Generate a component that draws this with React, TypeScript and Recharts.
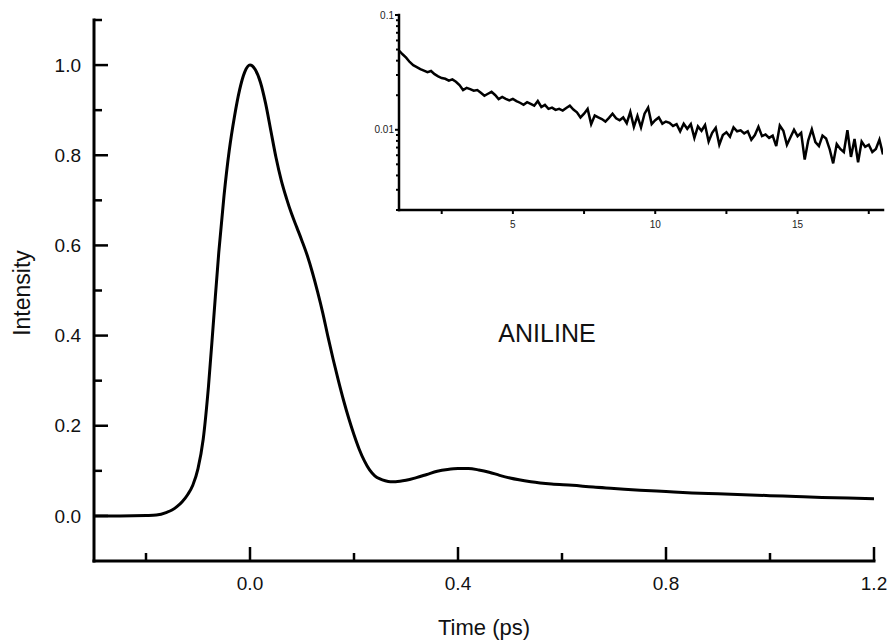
import { LineChart, Line, XAxis, YAxis } from 'recharts';

// main trace: time (ps) and normalised intensity
const mainTime = [
  -0.3, -0.25, -0.2, -0.18, -0.16, -0.15, -0.14, -0.13, -0.12, -0.11,
  -0.1, -0.09, -0.08, -0.07, -0.06, -0.05, -0.04, -0.03, -0.02, -0.01,
  0.0, 0.01, 0.02, 0.03, 0.04, 0.05, 0.06, 0.07, 0.08, 0.09,
  0.1, 0.11, 0.12, 0.13, 0.14, 0.15, 0.16, 0.17, 0.18, 0.19,
  0.2, 0.21, 0.22, 0.23, 0.24, 0.25, 0.26, 0.27, 0.28, 0.3,
  0.32, 0.34, 0.36, 0.38, 0.4, 0.42, 0.44, 0.46, 0.48, 0.5,
  0.54, 0.58, 0.62, 0.66, 0.7, 0.75, 0.8, 0.85, 0.9, 0.95,
  1.0, 1.05, 1.1, 1.15, 1.2,
];
const mainIntensity = [
  0.0, 0.0, 0.001, 0.002, 0.008, 0.013, 0.021, 0.032, 0.047, 0.068,
  0.105, 0.17, 0.285, 0.435, 0.585, 0.71, 0.81, 0.885, 0.945, 0.985,
  1.0, 0.99, 0.962, 0.915, 0.855, 0.795, 0.745, 0.705, 0.67, 0.64,
  0.61, 0.578, 0.54, 0.497, 0.45, 0.397, 0.347, 0.3, 0.256, 0.216,
  0.18, 0.148, 0.122, 0.102, 0.089, 0.082, 0.078, 0.076, 0.076, 0.079,
  0.085, 0.092, 0.099, 0.103, 0.105, 0.105, 0.102, 0.097, 0.09, 0.084,
  0.076, 0.071, 0.068, 0.064, 0.061, 0.057, 0.054, 0.051, 0.049, 0.047,
  0.045, 0.043, 0.041, 0.04, 0.038,
];

const mainXTicks = [-0.2, 0, 0.2, 0.4, 0.6, 0.8, 1.0, 1.2];
const mainXLabels = [0, 0.4, 0.8, 1.2];
const mainYTicks = [0, 0.1, 0.2, 0.3, 0.4, 0.5, 0.6, 0.7, 0.8, 0.9, 1.0, 1.1];
const mainYLabels = [0, 0.2, 0.4, 0.6, 0.8, 1.0];

// inset: long time tail on a log scale
const insetTime = [
  1.0, 1.125, 1.25, 1.375, 1.5, 1.625, 1.75, 1.875, 2.0, 2.125,
  2.25, 2.375, 2.5, 2.625, 2.75, 2.875, 3.0, 3.125, 3.25, 3.375,
  3.5, 3.625, 3.75, 3.875, 4.0, 4.125, 4.25, 4.375, 4.5, 4.625,
  4.75, 4.875, 5.0, 5.125, 5.25, 5.375, 5.5, 5.625, 5.75, 5.875,
  6.0, 6.125, 6.25, 6.375, 6.5, 6.625, 6.75, 6.875, 7.0, 7.125,
  7.25, 7.375, 7.5, 7.625, 7.75, 7.875, 8.0, 8.125, 8.25, 8.375,
  8.5, 8.625, 8.75, 8.875, 9.0, 9.125, 9.25, 9.375, 9.5, 9.625,
  9.75, 9.875, 10.0, 10.125, 10.25, 10.375, 10.5, 10.625, 10.75, 10.875,
  11.0, 11.125, 11.25, 11.375, 11.5, 11.625, 11.75, 11.875, 12.0, 12.125,
  12.25, 12.375, 12.5, 12.625, 12.75, 12.875, 13.0, 13.125, 13.25, 13.375,
  13.5, 13.625, 13.75, 13.875, 14.0, 14.125, 14.25, 14.375, 14.5, 14.625,
  14.75, 14.875, 15.0, 15.125, 15.25, 15.375, 15.5, 15.625, 15.75, 15.875,
  16.0, 16.125, 16.25, 16.375, 16.5, 16.625, 16.75, 16.875, 17.0, 17.125,
  17.25, 17.375, 17.5, 17.625, 17.75, 17.875, 18.0,
];
const insetSignal = [
  0.049, 0.0455, 0.0425, 0.039, 0.0365, 0.0352, 0.0338, 0.0328, 0.0318, 0.0325,
  0.0305, 0.0292, 0.0282, 0.0278, 0.0268, 0.0275, 0.0262, 0.0245, 0.0222, 0.0232,
  0.0226, 0.0219, 0.0222, 0.021, 0.0198, 0.0206, 0.0214, 0.0201, 0.0185, 0.0193,
  0.0186, 0.018, 0.0186, 0.0178, 0.0172, 0.0165, 0.0174, 0.0168, 0.0162, 0.0178,
  0.0158, 0.0165, 0.0152, 0.0156, 0.0149, 0.0152, 0.0147, 0.0155, 0.0162, 0.015,
  0.0142, 0.0128, 0.0138, 0.0152, 0.0112, 0.0133, 0.0128, 0.0124, 0.0118, 0.0127,
  0.0138, 0.0126, 0.0121, 0.0128, 0.0114, 0.0143, 0.0106, 0.0132, 0.0105, 0.0138,
  0.0156, 0.0112, 0.0121, 0.0128, 0.0113, 0.0118, 0.0115, 0.0108, 0.0112, 0.0097,
  0.0113, 0.0102, 0.0112, 0.0085, 0.0107, 0.0098, 0.011, 0.0079, 0.0094, 0.0104,
  0.0074, 0.009, 0.0095, 0.0087, 0.0105, 0.0097, 0.0099, 0.0093, 0.0097, 0.0082,
  0.009, 0.0106, 0.0088, 0.0091, 0.0085, 0.0089, 0.0072, 0.0109, 0.0098, 0.0074,
  0.0086, 0.01, 0.0088, 0.0094, 0.0055, 0.0081, 0.0101, 0.0078, 0.0072, 0.0089,
  0.0084, 0.0068, 0.0051, 0.0075, 0.0068, 0.0064, 0.0099, 0.0058, 0.0083, 0.0052,
  0.0079, 0.0071, 0.0074, 0.0064, 0.0068, 0.0082, 0.0061,
];

const insetXTicks = [2.5, 5, 7.5, 10, 12.5, 15, 17.5];
const insetXLabels = [5, 10, 15];
const insetYTicks = [
  0.002, 0.003, 0.004, 0.005, 0.006, 0.007, 0.008, 0.009, 0.01,
  0.02, 0.03, 0.04, 0.05, 0.06, 0.07, 0.08, 0.09, 0.1,
];
const insetYLabels = [0.01, 0.1];

const mainData = mainTime.map((t, i) => ({ t, v: mainIntensity[i] }));
const insetData = insetTime.map((t, i) => ({ t, v: insetSignal[i] }));

const FONT = '"Liberation Sans", Arial, sans-serif';

const MainXTick = ({ x, y, payload }: any) => {
  const labelled = mainXLabels.includes(payload.value);
  return (
    <g>
      <line x1={x} x2={x} y1={y} y2={y - (labelled ? 14 : 8)} stroke="#000" strokeWidth={2.5} />
      {labelled && (
        <text x={x} y={y + 22} dy="0.35em" textAnchor="middle" fontSize={19} fontFamily={FONT} fill="#111">
          {payload.value.toFixed(1)}
        </text>
      )}
    </g>
  );
};

const MainYTick = ({ x, y, payload }: any) => {
  const labelled = mainYLabels.includes(payload.value);
  return (
    <g>
      <line x1={x} x2={x + (labelled ? 14 : 8)} y1={y} y2={y} stroke="#000" strokeWidth={2.5} />
      {labelled && (
        <text x={x - 13} y={y} dy="0.35em" textAnchor="end" fontSize={19} fontFamily={FONT} fill="#111">
          {payload.value.toFixed(1)}
        </text>
      )}
    </g>
  );
};

const InsetXTick = ({ x, y, payload }: any) => {
  const labelled = insetXLabels.includes(payload.value);
  return (
    <g>
      <line x1={x} x2={x} y1={y} y2={y + 4} stroke="#000" strokeWidth={2} />
      {labelled && (
        <text x={x} y={y + 14} dy="0.35em" textAnchor="middle" fontSize={10} fontFamily={FONT} fill="#222">
          {payload.value}
        </text>
      )}
    </g>
  );
};

const InsetYTick = ({ x, y, payload }: any) => {
  const labelled = insetYLabels.includes(payload.value);
  return (
    <g>
      <line x1={x} x2={x - (labelled ? 4 : 3)} y1={y} y2={y} stroke="#000" strokeWidth={2} />
      {labelled && (
        <text x={x - 5} y={y} dy="0.35em" textAnchor="end" fontSize={10} fontFamily={FONT} fill="#222">
          {payload.value}
        </text>
      )}
    </g>
  );
};

const axisStroke = { stroke: '#000', strokeWidth: 3, strokeLinecap: 'square' as const };
const insetAxisStroke = { stroke: '#000', strokeWidth: 2.5, strokeLinecap: 'square' as const };

export default function App() {
  // fixed to the page corner so the chart uses the whole 891x644 window without scrollbars
  return (
    <div style={{ position: 'fixed', left: 0, top: 0, width: 891, height: 644, fontFamily: FONT, background: '#fff' }}>
      <div style={{ position: 'absolute', left: 0, top: 0 }}>
        <LineChart width={891} height={644} data={mainData} margin={{ top: 20, right: 17, bottom: 82, left: 93 }}>
          <XAxis
            dataKey="t"
            type="number"
            domain={[-0.3, 1.2]}
            allowDataOverflow
            ticks={mainXTicks}
            interval={0}
            height={1}
            tickSize={0}
            tickMargin={0}
            tickLine={false}
            tick={<MainXTick />}
            axisLine={axisStroke}
            label={{
              content: () => (
                <text x={484} y={627} dy="0.35em" textAnchor="middle" fontSize={22} fontFamily={FONT} fill="#111">
                  Time (ps)
                </text>
              ),
            }}
          />
          <YAxis
            type="number"
            domain={[-0.1, 1.1]}
            allowDataOverflow
            ticks={mainYTicks}
            interval={0}
            width={1}
            tickSize={0}
            tickMargin={0}
            tickLine={false}
            tick={<MainYTick />}
            axisLine={axisStroke}
            label={{
              content: () => (
                <text
                  x={22}
                  y={293}
                  dy="0.35em"
                  textAnchor="middle"
                  transform="rotate(-90 22 293)"
                  fontSize={23}
                  fontFamily={FONT}
                  fill="#111"
                >
                  Intensity
                </text>
              ),
            }}
          />
          <Line type="monotone" dataKey="v" stroke="#000" strokeWidth={3} dot={false} isAnimationActive={false} />
        </LineChart>
      </div>

      <div
        style={{
          position: 'absolute',
          left: 547,
          top: 333,
          transform: 'translate(-50%, -50%)',
          fontSize: 25,
          color: '#111',
          whiteSpace: 'nowrap',
        }}
      >
        ANILINE
      </div>

      <div style={{ position: 'absolute', left: 348, top: 0 }}>
        <LineChart width={543} height={230} data={insetData} margin={{ top: 15, right: 8, bottom: 19, left: 50 }}>
          <XAxis
            dataKey="t"
            type="number"
            domain={[1, 18]}
            allowDataOverflow
            ticks={insetXTicks}
            interval={0}
            height={1}
            tickSize={0}
            tickMargin={0}
            tickLine={false}
            tick={<InsetXTick />}
            axisLine={insetAxisStroke}
          />
          <YAxis
            type="number"
            scale="log"
            domain={[0.002, 0.1]}
            allowDataOverflow
            ticks={insetYTicks}
            interval={0}
            width={1}
            tickSize={0}
            tickMargin={0}
            tickLine={false}
            tick={<InsetYTick />}
            axisLine={insetAxisStroke}
          />
          <Line type="linear" dataKey="v" stroke="#000" strokeWidth={2.5} dot={false} isAnimationActive={false} />
        </LineChart>
      </div>
    </div>
  );
}
